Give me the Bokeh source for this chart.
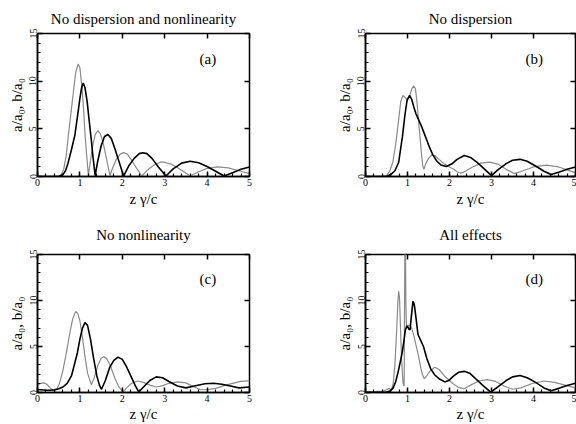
from bokeh.plotting import figure
from bokeh.layouts import column, row
from bokeh.models import Range1d, SingleIntervalTicker, LinearAxis, Label
from bokeh.embed import file_html
from bokeh.resources import INLINE

# ---------------- data ----------------
titles = ["No dispersion and nonlinearity", "No dispersion", "No nonlinearity", "All effects"]
panel_tags = ["(a)", "(b)", "(c)", "(d)"]
x_ticks = [0, 1, 2, 3, 4, 5]
y_ticks = [0, 5, 10, 15]

# panel (a)
A_z_gray = [0.0, 0.45, 0.55, 0.62, 0.68, 0.73, 0.79, 0.85, 0.9, 0.96, 1.0, 1.05, 1.09, 1.12, 1.16, 1.2,
            1.25, 1.3, 1.36, 1.42, 1.48, 1.55, 1.62, 1.71, 1.78, 1.86, 1.95, 2.03, 2.12, 2.22, 2.33, 2.46,
            2.6, 2.75, 2.9, 3.0, 3.15, 3.3, 3.45, 3.6, 3.8, 4.0, 4.25, 4.5, 4.75, 5.0]
A_gray = [0.0, 0.0, 0.1, 0.8, 2.3, 4.4, 6.7, 9.0, 10.9, 11.8, 11.4, 9.3, 6.8, 4.5, 2.2, 0.1,
          1.7, 3.2, 4.4, 4.8, 4.5, 3.5, 2.0, 0.1, 1.0, 1.8, 2.35, 2.5, 2.35, 1.7, 0.9, 0.05,
          0.7, 1.2, 1.5, 1.5, 1.3, 0.95, 0.5, 0.05, 0.5, 0.85, 1.0, 0.9, 0.6, 0.3]
A_z_black = [0.0, 0.5, 0.6, 0.66, 0.72, 0.8, 0.88, 0.94, 1.0, 1.04, 1.08, 1.12, 1.17, 1.22, 1.27, 1.31, 1.36,
             1.42, 1.5, 1.58, 1.66, 1.74, 1.82, 1.92, 2.03, 2.15, 2.28, 2.4, 2.48, 2.58, 2.7, 2.85, 3.03,
             3.2, 3.4, 3.6, 3.8, 4.0, 4.2, 4.4, 4.6, 4.8, 5.0]
A_black = [0.0, 0.0, 0.2, 0.6, 1.4, 2.8, 4.3, 6.2, 8.2, 9.3, 9.8, 9.3, 7.9, 5.8, 3.8, 2.0, 0.1,
           1.6, 3.2, 4.2, 4.4, 4.0, 3.0, 1.6, 0.05, 1.1, 1.9, 2.4, 2.5, 2.4, 1.9, 1.0, 0.05,
           0.8, 1.4, 1.6, 1.45, 1.05, 0.55, 0.05, 0.4, 0.75, 1.0]

# panel (b)
B_z_gray = [0.0, 0.4, 0.5, 0.58, 0.65, 0.72, 0.78, 0.84, 0.89, 0.94, 1.0, 1.05, 1.1, 1.15, 1.19, 1.23,
            1.28, 1.33, 1.36, 1.39, 1.43, 1.5, 1.58, 1.65, 1.75, 1.88, 2.0, 2.1, 2.2, 2.28, 2.4, 2.55,
            2.75, 2.95, 3.15, 3.35, 3.55, 3.75, 4.0, 4.3, 4.6, 4.8, 5.0]
B_gray = [0.0, 0.0, 0.1, 0.6, 1.5, 3.4, 5.6, 7.9, 8.5, 8.3, 8.0, 8.4, 9.2, 9.5, 9.2, 7.6,
          5.0, 2.5, 1.2, 0.75, 1.3, 1.9, 2.25, 2.2, 1.8, 1.3, 1.0, 0.75, 0.45, 0.35, 0.6, 1.0,
          1.4, 1.5, 1.3, 0.75, 0.3, 0.6, 1.0, 1.2, 1.0, 0.7, 0.4]
B_z_black = [0.0, 0.5, 0.6, 0.7, 0.79, 0.88, 0.94, 0.99, 1.05, 1.1, 1.15, 1.2, 1.28, 1.34, 1.4, 1.46,
             1.52, 1.6, 1.7, 1.8, 1.92, 2.05, 2.18, 2.35, 2.5, 2.65, 2.8, 3.0, 3.15, 3.35, 3.5, 3.68,
             3.85, 4.05, 4.25, 4.42, 4.6, 4.8, 5.0]
B_black = [0.0, 0.0, 0.2, 0.6, 1.5, 4.2, 6.5, 8.0, 8.5, 8.1, 7.3, 6.6, 5.8, 5.2, 4.5, 3.8,
           3.1, 2.3, 1.6, 1.2, 1.05, 1.3, 1.8, 2.2, 2.0, 1.5, 0.9, 0.1, 0.7, 1.35, 1.7, 1.8,
           1.6, 1.1, 0.55, 0.2, 0.45, 0.75, 1.0]

# panel (c)
C_z_gray = [0.0, 0.08, 0.15, 0.22, 0.3, 0.38, 0.45, 0.52, 0.6, 0.68, 0.76, 0.83, 0.9, 0.95, 1.0, 1.06,
            1.12, 1.18, 1.27, 1.33, 1.42, 1.5, 1.56, 1.63, 1.72, 1.82, 1.92, 2.02, 2.1, 2.22, 2.36, 2.5,
            2.65, 2.8, 2.95, 3.1, 3.3, 3.5, 3.7, 3.85, 4.0, 4.2, 4.4, 4.6, 4.8, 5.0]
C_gray = [0.8, 1.0, 1.05, 0.9, 0.5, 0.2, 0.3, 1.0, 2.4, 4.3, 6.4, 8.0, 8.8, 8.6, 7.8, 6.0,
          3.9, 2.1, 0.85, 1.5, 2.9, 3.7, 3.9, 3.7, 2.9, 1.6, 0.6, 0.05, 0.5, 1.0, 1.25, 1.1,
          0.8, 0.6, 0.75, 1.0, 1.15, 1.05, 0.6, 0.3, 0.3, 0.45, 0.75, 1.0, 1.2, 1.3]
C_z_black = [0.0, 0.1, 0.2, 0.3, 0.4, 0.5, 0.6, 0.7, 0.8, 0.88, 0.94, 1.0, 1.06, 1.12, 1.18, 1.25,
             1.32, 1.4, 1.46, 1.51, 1.6, 1.7, 1.8, 1.9, 2.0, 2.1, 2.2, 2.3, 2.39, 2.5, 2.65, 2.8,
             2.95, 3.1, 3.3, 3.5, 3.7, 3.95, 4.15, 4.35, 4.55, 4.75, 5.0]
C_black = [0.3, 0.3, 0.25, 0.25, 0.3, 0.4, 0.6, 1.0, 1.8, 3.2, 4.3, 5.8, 7.0, 7.6, 7.3, 5.8,
           3.8, 1.8, 0.8, 0.35, 1.3, 2.7, 3.5, 3.85, 3.6, 2.8, 1.8, 0.8, 0.05, 0.6, 1.3, 1.7,
           1.6, 1.2, 0.7, 0.5, 0.7, 0.95, 1.0, 0.9, 0.7, 0.5, 0.6]

# panel (d)
D_z_gray = [0.0, 0.2, 0.4, 0.5, 0.56, 0.62, 0.66, 0.7, 0.74, 0.77, 0.79, 0.81, 0.83, 0.86, 0.89, 0.905,
            0.92, 0.93, 0.94, 0.95, 0.96, 0.975, 1.02, 1.06, 1.1, 1.15, 1.2, 1.26, 1.32, 1.36, 1.4, 1.47,
            1.55, 1.65, 1.75, 1.88, 2.0, 2.1, 2.22, 2.35, 2.5, 2.7, 2.9, 3.1, 3.3, 3.5, 3.7, 3.95,
            4.25, 4.5, 4.75, 5.0]
D_gray = [0.1, 0.1, 0.15, 0.3, 0.45, 0.3, 1.0, 3.0, 6.5, 9.8, 11.0, 10.3, 7.5, 3.5, 1.2, 0.8,
          0.7, 10.0, 17.0, 17.0, 10.0, 7.2, 7.3, 7.3, 7.0, 6.2, 5.2, 4.0, 2.6, 1.9, 1.5, 1.9,
          2.4, 2.75, 2.5, 1.8, 1.3, 0.9, 0.55, 0.4, 0.8, 1.25, 1.4, 1.2, 0.7, 0.35, 0.5, 0.95,
          1.25, 1.1, 0.8, 0.5]
D_z_black = [0.0, 0.5, 0.6, 0.66, 0.72, 0.78, 0.84, 0.88, 0.92, 0.95, 0.98, 1.0, 1.03, 1.06, 1.09, 1.13,
             1.16, 1.2, 1.25, 1.3, 1.38, 1.46, 1.55, 1.65, 1.75, 1.89, 1.98, 2.1, 2.22, 2.35, 2.48, 2.62,
             2.8, 2.98, 3.15, 3.35, 3.5, 3.68, 3.85, 4.05, 4.25, 4.42, 4.6, 4.8, 5.0]
D_black = [0.0, 0.05, 0.2, 0.5, 1.2, 2.3, 3.6, 4.5, 5.8, 6.8, 7.2, 7.2, 6.9, 6.8, 8.2, 9.9,
           9.6, 8.2, 6.3, 5.8, 5.0, 3.7, 2.6, 1.9, 1.5, 1.15, 1.3, 1.8, 2.2, 2.3, 2.1, 1.5,
           0.75, 0.05, 0.6, 1.3, 1.7, 1.85, 1.6, 1.1, 0.5, 0.2, 0.45, 0.75, 1.0]

panels = [
    (A_z_gray, A_gray, A_z_black, A_black),
    (B_z_gray, B_gray, B_z_black, B_black),
    (C_z_gray, C_gray, C_z_black, C_black),
    (D_z_gray, D_gray, D_z_black, D_black),
]

SERIF = "Liberation Serif"
GRAY = "#8a8a8a"


def make_panel(i, fw, fh, bl, br, bt, bb, tstand, xstand, xlstand):
    zg, g, zb, b = panels[i]
    p = figure(width=bl + fw + br, height=bt + fh + bb,
               x_range=Range1d(0, 5), y_range=Range1d(0, 15),
               output_backend="svg", toolbar_location=None,
               min_border_left=bl, min_border_right=br, min_border_top=bt, min_border_bottom=bb)
    p.grid.visible = False
    p.outline_line_color = "black"
    p.outline_line_width = 1.5
    p.background_fill_color = "white"
    p.border_fill_color = "white"

    p.title.text = titles[i]
    p.title.align = "center"
    p.title.text_font = SERIF
    p.title.text_font_size = "15px"
    p.title.text_font_style = "normal"
    p.title.text_color = "black"
    p.title.standoff = tstand

    xa = p.xaxis[0]
    xa.ticker = SingleIntervalTicker(interval=1, num_minor_ticks=5)
    ya = p.yaxis[0]
    ya.ticker = SingleIntervalTicker(interval=5, num_minor_ticks=5)
    for ax in (xa, ya):
        ax.major_tick_in = 5
        ax.major_tick_out = 0
        ax.minor_tick_in = 3
        ax.minor_tick_out = 0
        ax.major_tick_line_width = 1.5
        ax.minor_tick_line_width = 1.2
        ax.axis_line_width = 1.5
        ax.major_label_text_font = SERIF
        ax.major_label_text_font_size = "10px"
        ax.major_label_text_color = "black"
        ax.axis_label_text_font = SERIF
        ax.axis_label_text_font_size = "15px"
        ax.axis_label_text_font_style = "normal"
        ax.axis_label_text_color = "black"
    xa.major_label_standoff = xstand
    xa.axis_label_standoff = xlstand
    xa.axis_label = "z \u03b3/c"
    ya.axis_label = "a/a\u2080, b/a\u2080"
    ya.major_label_orientation = "vertical"
    ya.major_label_standoff = 1
    ya.axis_label_standoff = 2

    # mirrored major ticks on top and right (no labels drawn)
    top = LinearAxis(ticker=SingleIntervalTicker(interval=1, num_minor_ticks=0))
    right = LinearAxis(ticker=SingleIntervalTicker(interval=5, num_minor_ticks=0))
    for ax in (top, right):
        ax.major_tick_in = 5
        ax.major_tick_out = 0
        ax.major_tick_line_width = 1.5
        ax.minor_tick_line_color = None
        ax.axis_line_color = None
        ax.major_label_text_font_size = "1px"
        ax.major_label_text_color = None
        ax.major_label_standoff = 0
    p.add_layout(top, "above")
    p.add_layout(right, "right")

    p.line(zg, g, line_color=GRAY, line_width=1.2)
    p.line(zb, b, line_color="black", line_width=1.6)

    p.add_layout(Label(x=4.02, y=12.3, text=panel_tags[i], text_font=SERIF, text_font_size="15px",
                       text_align="center", text_baseline="middle", text_color="black"))
    return p


# row 1: frames at y 33..176 ; row 2: frames at y 254..392
p1 = make_panel(0, 212, 143, 37, 79, 33, 35, 14, 2, 2)
p2 = make_panel(1, 210, 143, 37, 1, 33, 35, 14, 2, 2)
p3 = make_panel(2, 212, 138, 37, 79, 43, 32, 24, 2, 1)
p4 = make_panel(3, 210, 138, 37, 1, 43, 32, 24, 2, 1)

layout = column(row(p1, p2), row(p3, p4))
open("out.html", "w").write(file_html(layout, INLINE))
